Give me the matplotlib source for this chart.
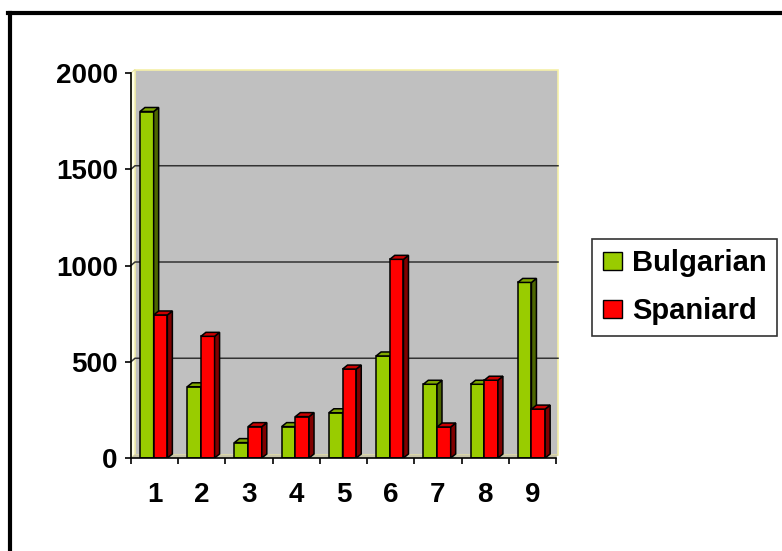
import matplotlib
matplotlib.use("Agg")
import matplotlib.pyplot as plt
from matplotlib.patches import Polygon, Patch
from matplotlib.lines import Line2D

categories = ["1", "2", "3", "4", "5", "6", "7", "8", "9"]
bulgarian = [1800, 370, 80, 163, 235, 530, 383, 383, 912]
spaniard = [743, 632, 163, 215, 462, 1032, 161, 404, 254]
series_names = ["Bulgarian", "Spaniard"]
y_ticks = [0, 500, 1000, 1500, 2000]

plt.rcParams['font.family'] = ['Liberation Sans', 'DejaVu Sans']
plt.rcParams['font.weight'] = 'bold'

W, H = 782, 551
fig = plt.figure(figsize=(W / 100, H / 100), dpi=100)
fig.patch.set_facecolor('white')

# axes placement in pixels
x0, x1 = 131, 556
y_bot, y_top = 458, 73
ax = fig.add_axes([x0 / W, (H - y_bot) / H, (x1 - x0) / W, (y_bot - y_top) / H])
ax.set_xlim(0, 9)
ax.set_ylim(0, 2000)
ax.set_facecolor('none')

px_x = 9 / (x1 - x0)          # data units per pixel (x)
px_y = 2000 / (y_bot - y_top)  # data units per pixel (y)
dx, dy = 5 * px_x, 4 * px_y    # bar depth offset
wdx, wdy = 4 * px_x, 3.5 * px_y  # wall offset

# back wall
wall = Polygon([(wdx, wdy), (9 + 2 * px_x, wdy), (9 + 2 * px_x, 2000 + wdy), (wdx, 2000 + wdy)],
               closed=True, facecolor='#C0C0C0', edgecolor='#F5F0A8', linewidth=1.2,
               clip_on=False, zorder=0)
ax.add_patch(wall)
# side wall
side = Polygon([(0, 0), (wdx, wdy), (wdx, 2000 + wdy), (0, 2000)], closed=True,
               facecolor='#FFFFE6', edgecolor='#E8E4A0', linewidth=0.8, clip_on=False, zorder=0.5)
ax.add_patch(side)
# floor
floor = Polygon([(0, 0), (9, 0), (9 + 2 * px_x, wdy), (wdx, wdy)], closed=True,
                facecolor='#C8C4A8', edgecolor='none', clip_on=False, zorder=0.5)
ax.add_patch(floor)

# gridlines on the back wall
for t in y_ticks[1:-1]:
    ax.plot([0, wdx, 9 + 2 * px_x], [t, t + wdy, t + wdy], color='#333333', lw=1.1,
            zorder=1, clip_on=False)

colors = {
    "Bulgarian": ('#99CC00', '#4D6600', '#7FA800'),
    "Spaniard": ('#FF0000', '#800000', '#CC0000'),
}
bw = 0.29
offsets = [0.19, 0.19 + bw]

z = 2
for i in range(len(categories)):
    for s, vals in enumerate([bulgarian, spaniard]):
        front, sidec, topc = colors[series_names[s]]
        v = vals[i]
        left = i + offsets[s]
        ax.bar(left, v, width=bw, align='edge', color=front, edgecolor='black',
               linewidth=1.1, zorder=z)
        ax.add_patch(Polygon([(left + bw, 0), (left + bw + dx, dy), (left + bw + dx, v + dy),
                              (left + bw, v)], closed=True, facecolor=sidec,
                             edgecolor='black', linewidth=1.1, zorder=z))
        ax.add_patch(Polygon([(left, v), (left + dx, v + dy), (left + bw + dx, v + dy),
                              (left + bw, v)], closed=True, facecolor=topc,
                             edgecolor='black', linewidth=1.1, zorder=z))
        z += 1

# axes styling
for sp in ['top', 'right']:
    ax.spines[sp].set_visible(False)
for sp in ['left', 'bottom']:
    ax.spines[sp].set_color('black')
    ax.spines[sp].set_linewidth(1.2)
    ax.spines[sp].set_zorder(50)

ax.set_yticks(y_ticks)
ax.set_yticklabels([str(t) for t in y_ticks], fontsize=20, fontweight='bold')
ax.set_xticks(range(10))
ax.set_xticklabels([''] * 10)
ax.set_xticks([i + 0.5 for i in range(9)], minor=True)
ax.set_xticklabels(categories, minor=True, fontsize=20, fontweight='bold')
ax.tick_params(axis='y', direction='out', length=4.5, width=1.2, pad=5)
ax.tick_params(axis='x', which='major', direction='out', length=4.5, width=1.2)
ax.tick_params(axis='x', which='minor', length=0, pad=17)

# legend
handles = [Patch(facecolor=colors[n][0], edgecolor='black', linewidth=1.0) for n in series_names]
leg = fig.legend(handles, series_names, loc='upper left',
                 bbox_to_anchor=(592 / W, 1 - 239 / H), frameon=True, fancybox=False,
                 prop={'family': 'Liberation Sans', 'weight': 'bold', 'size': 21},
                 handlelength=0.68, handleheight=0.6, handletextpad=0.34,
                 labelspacing=0.68, borderpad=0.36, borderaxespad=0)
leg.get_frame().set_edgecolor('black')
leg.get_frame().set_linewidth(1.2)

# outer frame (only top & left visible)
fig.add_artist(Line2D([9.5 / W, 9.5 / W], [0, 1 - 13.3 / H], color='black', lw=3,
                      transform=fig.transFigure))
fig.add_artist(Line2D([8 / W, 1], [1 - 13.3 / H, 1 - 13.3 / H], color='black', lw=3,
                      transform=fig.transFigure))

fig.savefig('out.png', dpi=100)
